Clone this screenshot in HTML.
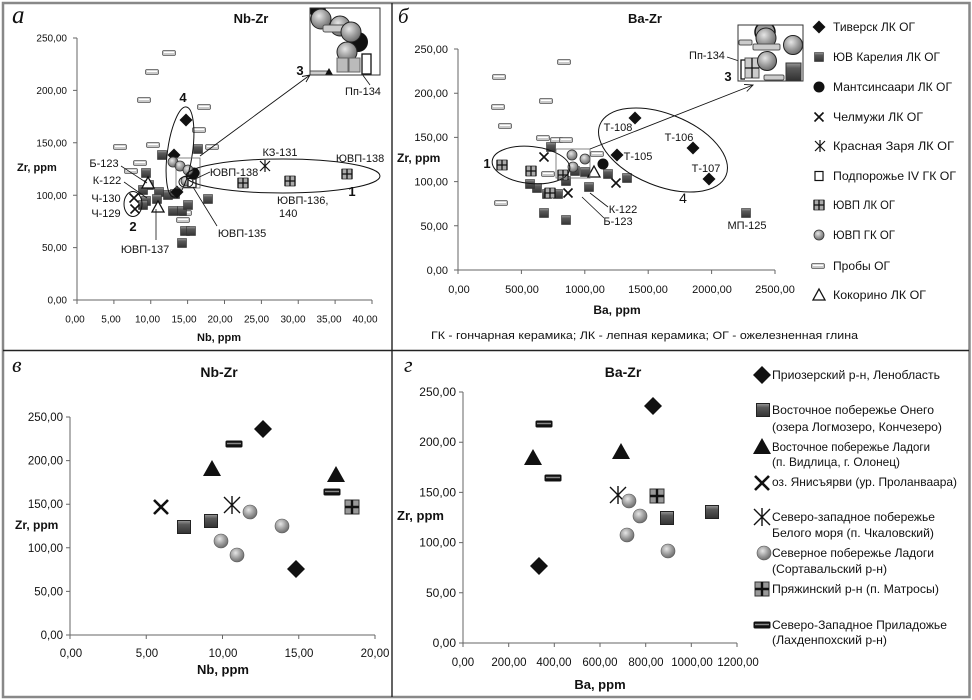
<!DOCTYPE html>
<html><head><meta charset="utf-8"><style>
html,body{margin:0;padding:0;background:#fff;}
svg{display:block;}
text{font-family:"Liberation Sans","DejaVu Sans",sans-serif;fill:#111;}
.t10{font-size:10px}
.t11{font-size:11px}
.t115{font-size:11.5px}
.t12{font-size:12px}
.b{font-weight:bold}
.it{font-family:"Liberation Serif","DejaVu Serif",serif;font-style:italic}
</style></head><body>
<svg width="972" height="700" viewBox="0 0 972 700" xmlns="http://www.w3.org/2000/svg">
<defs>
 <linearGradient id="gsq" x1="0" y1="0" x2="0" y2="1"><stop offset="0" stop-color="#9a9a9a"/><stop offset="0.3" stop-color="#5a5a5a"/><stop offset="1" stop-color="#333"/></linearGradient>
 <radialGradient id="gci" cx="0.4" cy="0.35" r="0.7"><stop offset="0" stop-color="#e6e6e6"/><stop offset="0.55" stop-color="#9c9c9c"/><stop offset="1" stop-color="#666"/></radialGradient>
 <g id="dia"><polygon points="0,-6.5 6.5,0 0,6.5 -6.5,0" fill="#111"/></g>
 <g id="sq"><rect x="-4.5" y="-4.5" width="9" height="9" fill="url(#gsq)" stroke="#333" stroke-width="0.6"/></g>
 <g id="bc"><circle r="5.5" fill="#111"/></g>
 <g id="xm"><path d="M-4.5,-4.5L4.5,4.5M-4.5,4.5L4.5,-4.5" stroke="#111" stroke-width="1.6"/></g>
 <g id="zh"><path d="M-5,-5L5,5M-5,5L5,-5M0,-6V6" stroke="#111" stroke-width="1.2"/></g>
 <g id="ro"><rect x="-4" y="-4.5" width="8" height="9" fill="#fff" stroke="#111" stroke-width="1.2"/></g>
 <g id="cs"><rect x="-5" y="-5" width="10" height="10" fill="#aaa" stroke="#333" stroke-width="0.8"/><path d="M0,-5V5M-5,0H5M-5,-5V5M5,-5V5" stroke="#111" stroke-width="1.3"/></g>
 <g id="gc"><circle r="5" fill="url(#gci)" stroke="#333" stroke-width="0.8"/></g>
 <g id="pb"><rect x="-6.5" y="-2.5" width="13" height="5" rx="1.5" fill="#c8c8c8" stroke="#555" stroke-width="0.8"/><line x1="-5" y1="-0.6" x2="5" y2="-0.6" stroke="#fff" stroke-width="1.3"/></g>
 <g id="tr"><polygon points="0,-6 6,5 -6,5" fill="#fff" stroke="#111" stroke-width="1.3"/></g>
 <g id="BD"><polygon points="0,-9 9,0 0,9 -9,0" fill="#111"/></g>
 <g id="BS"><rect x="-6.5" y="-6.5" width="13" height="13" fill="url(#gsq)" stroke="#222"/></g>
 <g id="BT"><polygon points="0,-9 9,7 -9,7" fill="#111"/></g>
 <g id="BX"><path d="M-7,-7L7,7M-7,7L7,-7" stroke="#111" stroke-width="2.6"/></g>
 <g id="BZ"><path d="M-8,-8L8,8M-8,8L8,-8M0,-9V9" stroke="#111" stroke-width="1.4"/></g>
 <g id="BC"><circle r="7" fill="url(#gci)" stroke="#555" stroke-width="0.6"/></g>
 <g id="BCS"><rect x="-7" y="-7" width="14" height="14" fill="#999" stroke="#333"/><path d="M0,-7V7M-7,0H7" stroke="#111" stroke-width="2.4"/></g>
 <g id="BP"><rect x="-8.5" y="-3.5" width="17" height="7" rx="1.5" fill="#111"/><line x1="-7" y1="-0.5" x2="7" y2="-0.5" stroke="#888" stroke-width="1.5"/></g>
 <clipPath id="clipA"><rect x="310" y="8" width="70" height="67"/></clipPath>
 <clipPath id="clipB"><rect x="738" y="25" width="65" height="56"/></clipPath>
</defs>

<rect x="0" y="0" width="972" height="700" fill="#fff"/>

<!-- borders -->
<rect x="3" y="3" width="966.5" height="694" fill="none" stroke="#888" stroke-width="2.5"/>
<line x1="392" y1="3" x2="392" y2="697" stroke="#222" stroke-width="1.4"/>
<line x1="3" y1="350.5" x2="969" y2="350.5" stroke="#222" stroke-width="1.4"/>

<!-- ================= PANEL A ================= -->
<text x="12" y="23" class="it" font-size="25">а</text>
<text x="251" y="23" class="b" text-anchor="middle" font-size="13">Nb-Zr</text>
<g stroke="#666" stroke-width="1">
 <line x1="77" y1="38" x2="77" y2="300"/>
 <line x1="77" y1="300" x2="372" y2="300"/>
 <path d="M73,38H77M73,90.4H77M73,142.8H77M73,195.2H77M73,247.6H77M73,300H77"/>
 <path d="M77,300V304M113.9,300V304M150.75,300V304M187.6,300V304M224.5,300V304M261.4,300V304M298.25,300V304M335.1,300V304M372,300V304"/>
</g>
<g class="t10" text-anchor="end">
 <text x="67" y="41.5">250,00</text><text x="67" y="94">200,00</text><text x="67" y="146.5">150,00</text>
 <text x="67" y="199">100,00</text><text x="67" y="251">50,00</text><text x="67" y="303.5">0,00</text>
</g>
<g class="t10" text-anchor="middle">
 <text x="75" y="322.5">0,00</text><text x="111" y="322.5">5,00</text><text x="147.5" y="322.5">10,00</text>
 <text x="184" y="322.5">15,00</text><text x="220" y="322.5">20,00</text><text x="256.5" y="322.5">25,00</text>
 <text x="293" y="322.5">30,00</text><text x="329" y="322.5">35,00</text><text x="365" y="322.5">40,00</text>
</g>
<text x="17" y="171" class="t11 b">Zr, ppm</text>
<text x="219" y="341" class="t11 b" text-anchor="middle">Nb, ppm</text>

<!-- A markers -->
<g>
 <use href="#pb" x="169" y="53"/><use href="#pb" x="152" y="72"/><use href="#pb" x="144" y="100"/>
 <use href="#pb" x="204" y="107"/><use href="#pb" x="199" y="130"/><use href="#pb" x="120" y="147"/>
 <use href="#pb" x="153" y="145"/><use href="#pb" x="212" y="147"/><use href="#pb" x="140" y="163"/>
 <use href="#pb" x="131" y="171"/><use href="#pb" x="185" y="213"/><use href="#pb" x="183" y="220"/>
 <use href="#sq" x="162" y="155"/><use href="#sq" x="198" y="149"/><use href="#sq" x="146" y="173"/>
 <use href="#sq" x="149" y="185"/><use href="#sq" x="159" y="192"/><use href="#sq" x="143" y="190"/>
 <use href="#sq" x="146" y="201"/><use href="#sq" x="168" y="195"/><use href="#sq" x="175" y="194"/>
 <use href="#sq" x="157" y="199"/><use href="#sq" x="173" y="211"/><use href="#sq" x="182" y="211"/>
 <use href="#sq" x="188" y="205"/><use href="#sq" x="208" y="199"/><use href="#sq" x="185" y="231"/>
 <use href="#sq" x="191" y="231"/><use href="#sq" x="182" y="243"/><use href="#sq" x="143" y="205"/>
 <use href="#dia" x="186" y="120"/><use href="#dia" x="174" y="155"/><use href="#dia" x="177" y="192"/>
 <use href="#bc" x="194" y="173"/><use href="#dia" x="192" y="176"/>
 <use href="#gc" x="173" y="162"/><use href="#gc" x="180" y="166"/><use href="#gc" x="188" y="170"/><use href="#gc" x="186" y="181"/>
 <use href="#ro" x="192" y="183"/>
 <use href="#tr" x="148" y="183"/><use href="#tr" x="158" y="207"/>
 <use href="#xm" x="134" y="198"/><use href="#xm" x="135" y="209"/>
 <use href="#cs" x="243" y="183"/><use href="#cs" x="290" y="181"/><use href="#cs" x="347" y="174"/>
 <use href="#zh" x="265" y="166"/>
</g>
<!-- A annotations -->
<g fill="none" stroke="#111" stroke-width="1">
 <ellipse cx="283" cy="176" rx="97" ry="17"/>
 <ellipse cx="180" cy="152" rx="12.5" ry="45.5" transform="rotate(8 180 152)"/>
 <ellipse cx="133" cy="204" rx="9" ry="12.5"/>
 <ellipse cx="186" cy="182" rx="7" ry="5.5"/>
 <rect x="176" y="158" width="24" height="30" stroke="#666" stroke-width="0.8"/>
 <line x1="200" y1="156" x2="310" y2="75" stroke-width="0.9"/>
 <path d="M302,76.5L310,75L306,82" stroke-width="0.9"/>
 <line x1="121" y1="166" x2="147" y2="183" stroke-width="0.8"/>
 <line x1="124" y1="182" x2="147" y2="198" stroke-width="0.8"/>
 <line x1="156" y1="209" x2="156" y2="240" stroke-width="0.8"/>
 <line x1="193" y1="187" x2="217" y2="226" stroke-width="0.8"/>
 <line x1="362" y1="74" x2="370" y2="85" stroke-width="0.8"/>
 <line x1="210" y1="172" x2="193" y2="180" stroke-width="0.8"/>
</g>
<g class="t11" text-anchor="middle">
 <text x="280" y="156">КЗ-131</text>
 <text x="360" y="162">ЮВП-138</text>
 <text x="234" y="176">ЮВП-138</text>
 <text x="277" y="204" text-anchor="start">ЮВП-136,</text>
 <text x="279" y="217" text-anchor="start">140</text>
 <text x="363" y="95">Пп-134</text>
 <text x="104" y="167">Б-123</text>
 <text x="107" y="184">К-122</text>
 <text x="106" y="202">Ч-130</text>
 <text x="106" y="217">Ч-129</text>
 <text x="145" y="253">ЮВП-137</text>
 <text x="242" y="237">ЮВП-135</text>
</g>
<g class="b" font-size="13" text-anchor="middle">
 <text x="300" y="75">3</text><text x="183" y="102">4</text><text x="133" y="231">2</text><text x="352" y="196">1</text>
</g>
<!-- inset A -->
<rect x="310" y="8" width="70" height="67" fill="#fff"/>
<g clip-path="url(#clipA)">
 <circle cx="318" cy="11" r="8" fill="#111"/>
 <circle cx="340" cy="26" r="10" fill="url(#gci)" stroke="#222"/>
 <circle cx="321" cy="19" r="10" fill="url(#gci)" stroke="#222"/>
 <rect x="323" y="25" width="26" height="7" rx="2" fill="#ccc" stroke="#555"/>
 <circle cx="358" cy="42" r="10" fill="#111"/>
 <circle cx="351" cy="32" r="10" fill="url(#gci)" stroke="#222"/>
 <circle cx="347" cy="52" r="10" fill="url(#gci)" stroke="#222"/>
 <rect x="337" y="58" width="11" height="14" fill="#bbb" stroke="#666"/>
 <rect x="349" y="58" width="11" height="14" fill="#bbb" stroke="#666"/>
 <rect x="362" y="54" width="9" height="20" fill="#fff" stroke="#111" stroke-width="1.3"/>
 <rect x="310" y="71" width="17" height="4" fill="#ccc" stroke="#555"/>
 <polygon points="329,68 333,75 325,75" fill="#111"/>
</g>
<rect x="310" y="8" width="70" height="67" fill="none" stroke="#333" stroke-width="1"/>

<!-- ================= PANEL Б ================= -->
<text x="398" y="23" class="it" font-size="21">б</text>
<text x="645" y="23" class="b" text-anchor="middle" font-size="13">Ba-Zr</text>
<g stroke="#666" stroke-width="1">
 <line x1="458" y1="49" x2="458" y2="270"/>
 <line x1="458" y1="270" x2="775" y2="270"/>
 <path d="M454,49H458M454,93.2H458M454,137.4H458M454,181.6H458M454,225.8H458M454,270H458"/>
 <path d="M458,270V274M521.4,270V274M584.8,270V274M648.2,270V274M711.6,270V274M775,270V274"/>
</g>
<g class="t11" text-anchor="end">
 <text x="448" y="53">250,00</text><text x="448" y="97">200,00</text><text x="448" y="141">150,00</text>
 <text x="448" y="185.5">100,00</text><text x="448" y="230">50,00</text><text x="448" y="274">0,00</text>
</g>
<g class="t11" text-anchor="middle">
 <text x="459" y="293">0,00</text><text x="522" y="293">500,00</text><text x="585" y="293">1000,00</text>
 <text x="648" y="293">1500,00</text><text x="712" y="293">2000,00</text><text x="775" y="293">2500,00</text>
</g>
<text x="397" y="162" class="t12 b">Zr, ppm</text>
<text x="617" y="314" class="t12 b" text-anchor="middle">Ba, ppm</text>
<text x="431" y="339" font-size="11" textLength="427" lengthAdjust="spacingAndGlyphs">ГК - гончарная керамика; ЛК - лепная керамика; ОГ - ожелезненная глина</text>

<!-- B markers -->
<g>
 <use href="#pb" x="564" y="62"/><use href="#pb" x="499" y="77"/><use href="#pb" x="546" y="101"/>
 <use href="#pb" x="498" y="107"/><use href="#pb" x="505" y="126"/><use href="#pb" x="543" y="138"/>
 <use href="#pb" x="557" y="140"/><use href="#pb" x="566" y="140"/><use href="#pb" x="597" y="154"/>
 <use href="#pb" x="548" y="174"/><use href="#pb" x="501" y="203"/>
 <use href="#sq" x="551" y="147"/><use href="#sq" x="537" y="188"/><use href="#sq" x="547" y="194"/>
 <use href="#sq" x="558" y="194"/><use href="#sq" x="544" y="213"/><use href="#sq" x="566" y="220"/>
 <use href="#sq" x="575" y="171"/><use href="#sq" x="589" y="187"/><use href="#sq" x="585" y="172"/>
 <use href="#sq" x="608" y="174"/><use href="#sq" x="627" y="178"/><use href="#sq" x="746" y="213"/>
 <use href="#sq" x="566" y="181"/><use href="#sq" x="530" y="184"/>
 <use href="#cs" x="502" y="165"/><use href="#cs" x="531" y="171"/><use href="#cs" x="550" y="193"/><use href="#cs" x="563" y="175"/>
 <use href="#dia" x="635" y="118"/><use href="#dia" x="617" y="155"/><use href="#dia" x="693" y="148"/><use href="#dia" x="709" y="179"/>
 <use href="#bc" x="603" y="164"/>
 <use href="#gc" x="572" y="155"/><use href="#gc" x="585" y="159"/><use href="#gc" x="573" y="167"/>
 <use href="#tr" x="594" y="172"/>
 <use href="#xm" x="544" y="157"/><use href="#xm" x="616" y="183"/><use href="#xm" x="568" y="193"/>
</g>
<g fill="none" stroke="#111" stroke-width="1">
 <ellipse cx="531" cy="165" rx="39" ry="18.5" transform="rotate(6 531 165)"/>
 <ellipse cx="663" cy="150" rx="68" ry="36" transform="rotate(22 663 150)"/>
 <rect x="556" y="149" width="34" height="29" stroke="#666" stroke-width="0.8"/>
 <line x1="590" y1="149" x2="753" y2="85" stroke-width="0.9"/>
 <path d="M744,84.4L753,85L746.8,91.5" stroke-width="0.9"/>
 <line x1="590" y1="193" x2="608" y2="207" stroke-width="0.8"/>
 <line x1="582" y1="197" x2="604" y2="218" stroke-width="0.8"/>
 <line x1="727" y1="57" x2="742" y2="62" stroke-width="0.8"/>
</g>
<g class="t11" text-anchor="middle">
 <text x="618" y="131">Т-108</text>
 <text x="679" y="141">Т-106</text>
 <text x="638" y="160">Т-105</text>
 <text x="706" y="172">Т-107</text>
 <text x="623" y="213">К-122</text>
 <text x="618" y="225">Б-123</text>
 <text x="747" y="229">МП-125</text>
 <text x="707" y="59">Пп-134</text>
</g>
<text x="728" y="81" class="b" font-size="13" text-anchor="middle">3</text>
<text x="487" y="168" class="b" font-size="13" text-anchor="middle">1</text>
<text x="683" y="203" font-size="14" text-anchor="middle">4</text>
<!-- inset B -->
<rect x="738" y="25" width="65" height="56" fill="#fff"/>
<g clip-path="url(#clipB)">
 <rect x="739" y="40" width="13" height="5" rx="1.5" fill="#ccc" stroke="#555"/>
 <circle cx="765" cy="32" r="10" fill="#999" stroke="#111" stroke-width="1.5"/>
 <circle cx="766" cy="38" r="10" fill="url(#gci)" stroke="#222"/>
 <rect x="753" y="44" width="27" height="6" rx="1.5" fill="#ccc" stroke="#555"/>
 <circle cx="793" cy="45" r="9.5" fill="url(#gci)" stroke="#222"/>
 <rect x="745" y="58" width="14" height="20" fill="#ccc" stroke="#555"/>
 <path d="M752,58V78M745,68H759" stroke="#111" stroke-width="1.3"/>
 <path d="M745,60H741V79H745" fill="none" stroke="#111" stroke-width="1.3"/>
 <circle cx="767" cy="61" r="9.5" fill="url(#gci)" stroke="#222"/>
 <rect x="786" y="63" width="15" height="17" fill="url(#gsq)" stroke="#333"/>
 <rect x="764" y="75" width="20" height="5" rx="1.5" fill="#ccc" stroke="#555"/>
</g>
<rect x="738" y="25" width="65" height="56" fill="none" stroke="#333" stroke-width="1"/>

<!-- Legend top -->
<g>
 <use href="#dia" x="819" y="27"/>
 <use href="#sq" x="819" y="57"/>
 <use href="#bc" x="819" y="87"/>
 <use href="#xm" x="819" y="117"/>
 <use href="#zh" x="820" y="146"/>
 <use href="#ro" x="819" y="176"/>
 <use href="#cs" x="819" y="205"/>
 <use href="#gc" x="819" y="235"/>
 <use href="#pb" x="818" y="266"/>
 <use href="#tr" x="819" y="295"/>
</g>
<g font-size="12">
 <text x="833" y="31" textLength="82" lengthAdjust="spacingAndGlyphs">Тиверск ЛК ОГ</text>
 <text x="833" y="61" textLength="107" lengthAdjust="spacingAndGlyphs">ЮВ Карелия ЛК ОГ</text>
 <text x="833" y="91" textLength="119" lengthAdjust="spacingAndGlyphs">Мантсинсаари ЛК ОГ</text>
 <text x="833" y="121" textLength="90" lengthAdjust="spacingAndGlyphs">Челмужи ЛК ОГ</text>
 <text x="833" y="150" textLength="121" lengthAdjust="spacingAndGlyphs">Красная Заря ЛК ОГ</text>
 <text x="833" y="180" textLength="123" lengthAdjust="spacingAndGlyphs">Подпорожье IV ГК ОГ</text>
 <text x="833" y="209" textLength="62" lengthAdjust="spacingAndGlyphs">ЮВП ЛК ОГ</text>
 <text x="833" y="239" textLength="62" lengthAdjust="spacingAndGlyphs">ЮВП ГК ОГ</text>
 <text x="833" y="270" textLength="57" lengthAdjust="spacingAndGlyphs">Пробы ОГ</text>
 <text x="833" y="299" textLength="93" lengthAdjust="spacingAndGlyphs">Кокорино ЛК ОГ</text>
</g>

<!-- ================= PANEL В ================= -->
<text x="12" y="372" class="it" font-size="22">в</text>
<text x="219" y="377" class="b" text-anchor="middle" font-size="14">Nb-Zr</text>
<g stroke="#666" stroke-width="1">
 <line x1="70" y1="417" x2="70" y2="635"/>
 <line x1="70" y1="635" x2="375" y2="635"/>
 <path d="M66,417H70M66,460.6H70M66,504.2H70M66,547.8H70M66,591.4H70M66,635H70"/>
 <path d="M70,635V639M146.25,635V639M222.5,635V639M298.75,635V639M375,635V639"/>
</g>
<g class="t115" text-anchor="end">
 <text x="63" y="421">250,00</text><text x="63" y="464.6">200,00</text><text x="63" y="508.2">150,00</text>
 <text x="63" y="551.8">100,00</text><text x="63" y="595.4">50,00</text><text x="63" y="639">0,00</text>
</g>
<g class="t115" text-anchor="middle">
 <text x="71" y="657">0,00</text><text x="147" y="657">5,00</text><text x="223" y="657">10,00</text>
 <text x="299" y="657">15,00</text><text x="375" y="657">20,00</text>
</g>
<text x="15" y="529" class="t12 b">Zr, ppm</text>
<text x="223" y="674" class="b" font-size="13" text-anchor="middle">Nb, ppm</text>
<g>
 <use href="#BX" x="161" y="507"/>
 <use href="#BS" x="184" y="527"/>
 <use href="#BS" x="211" y="521"/>
 <use href="#BT" x="212" y="469"/>
 <use href="#BP" x="234" y="444"/>
 <use href="#BD" x="263" y="429"/>
 <use href="#BZ" x="232" y="505"/>
 <use href="#BC" x="250" y="512"/>
 <use href="#BC" x="221" y="541"/>
 <use href="#BC" x="237" y="555"/>
 <use href="#BC" x="282" y="526"/>
 <use href="#BD" x="296" y="569"/>
 <use href="#BT" x="336" y="475"/>
 <use href="#BP" x="332" y="492"/>
 <use href="#BCS" x="352" y="507"/>
</g>

<!-- ================= PANEL Г ================= -->
<text x="404" y="372" class="it" font-size="22">г</text>
<text x="623" y="377" class="b" text-anchor="middle" font-size="14">Ba-Zr</text>
<g stroke="#666" stroke-width="1">
 <line x1="463" y1="392" x2="463" y2="643"/>
 <line x1="463" y1="643" x2="737" y2="643"/>
 <path d="M459,392H463M459,442.2H463M459,492.4H463M459,542.6H463M459,592.8H463M459,643H463"/>
 <path d="M463,643V647M508.7,643V647M554.3,643V647M600,643V647M645.7,643V647M691.3,643V647M737,643V647"/>
</g>
<g class="t12" text-anchor="end">
 <text x="456" y="396">250,00</text><text x="456" y="446.2">200,00</text><text x="456" y="496.4">150,00</text>
 <text x="456" y="546.6">100,00</text><text x="456" y="596.8">50,00</text><text x="456" y="647">0,00</text>
</g>
<g class="t115" text-anchor="middle">
 <text x="463" y="666">0,00</text><text x="509" y="666">200,00</text><text x="554" y="666">400,00</text>
 <text x="600" y="666">600,00</text><text x="646" y="666">800,00</text><text x="692" y="666">1000,00</text>
 <text x="738" y="666">1200,00</text>
</g>
<text x="397" y="520" class="b" font-size="13">Zr, ppm</text>
<text x="600" y="689" class="b" font-size="13" text-anchor="middle">Ba, ppm</text>
<g>
 <use href="#BP" x="544" y="424"/>
 <use href="#BT" x="533" y="458"/>
 <use href="#BP" x="553" y="478"/>
 <use href="#BD" x="539" y="566"/>
 <use href="#BT" x="621" y="452"/>
 <use href="#BD" x="653" y="406"/>
 <use href="#BZ" x="618" y="495"/>
 <use href="#BC" x="629" y="501"/>
 <use href="#BC" x="640" y="516"/>
 <use href="#BCS" x="657" y="496"/>
 <use href="#BS" x="667" y="518"/>
 <use href="#BC" x="627" y="535"/>
 <use href="#BC" x="668" y="551"/>
 <use href="#BS" x="712" y="512"/>
</g>

<!-- Legend bottom -->
<g>
 <use href="#BD" x="762" y="375"/>
 <use href="#BS" x="763" y="410"/>
 <use href="#BT" x="762" y="447"/>
 <use href="#BX" x="762" y="483"/>
 <use href="#BZ" x="762" y="517"/>
 <use href="#BC" x="764" y="553"/>
 <use href="#BCS" x="762" y="589"/>
 <use href="#BP" x="762" y="625"/>
</g>
<g font-size="12">
 <text x="772" y="379" textLength="168" lengthAdjust="spacingAndGlyphs">Приозерский р-н, Ленобласть</text>
 <text x="772" y="414" textLength="162" lengthAdjust="spacingAndGlyphs">Восточное побережье Онего</text>
 <text x="772" y="431" textLength="170" lengthAdjust="spacingAndGlyphs">(озера Логмозеро, Кончезеро)</text>
 <text x="772" y="451" textLength="158" lengthAdjust="spacingAndGlyphs">Восточное побережье Ладоги</text>
 <text x="772" y="466" textLength="128" lengthAdjust="spacingAndGlyphs">(п. Видлица, г. Олонец)</text>
 <text x="772" y="486" textLength="185" lengthAdjust="spacingAndGlyphs">оз. Янисъярви (ур. Проланваара)</text>
 <text x="772" y="521" textLength="163" lengthAdjust="spacingAndGlyphs">Северо-западное побережье</text>
 <text x="772" y="537" textLength="162" lengthAdjust="spacingAndGlyphs">Белого моря (п. Чкаловский)</text>
 <text x="772" y="557" textLength="162" lengthAdjust="spacingAndGlyphs">Северное побережье Ладоги</text>
 <text x="772" y="573" textLength="115" lengthAdjust="spacingAndGlyphs">(Сортавальский р-н)</text>
 <text x="772" y="593" textLength="167" lengthAdjust="spacingAndGlyphs">Пряжинский р-н (п. Матросы)</text>
 <text x="772" y="629" textLength="175" lengthAdjust="spacingAndGlyphs">Северо-Западное Приладожье</text>
 <text x="772" y="644" textLength="115" lengthAdjust="spacingAndGlyphs">(Лахденпохский р-н)</text>
</g>
</svg>
</body></html>
